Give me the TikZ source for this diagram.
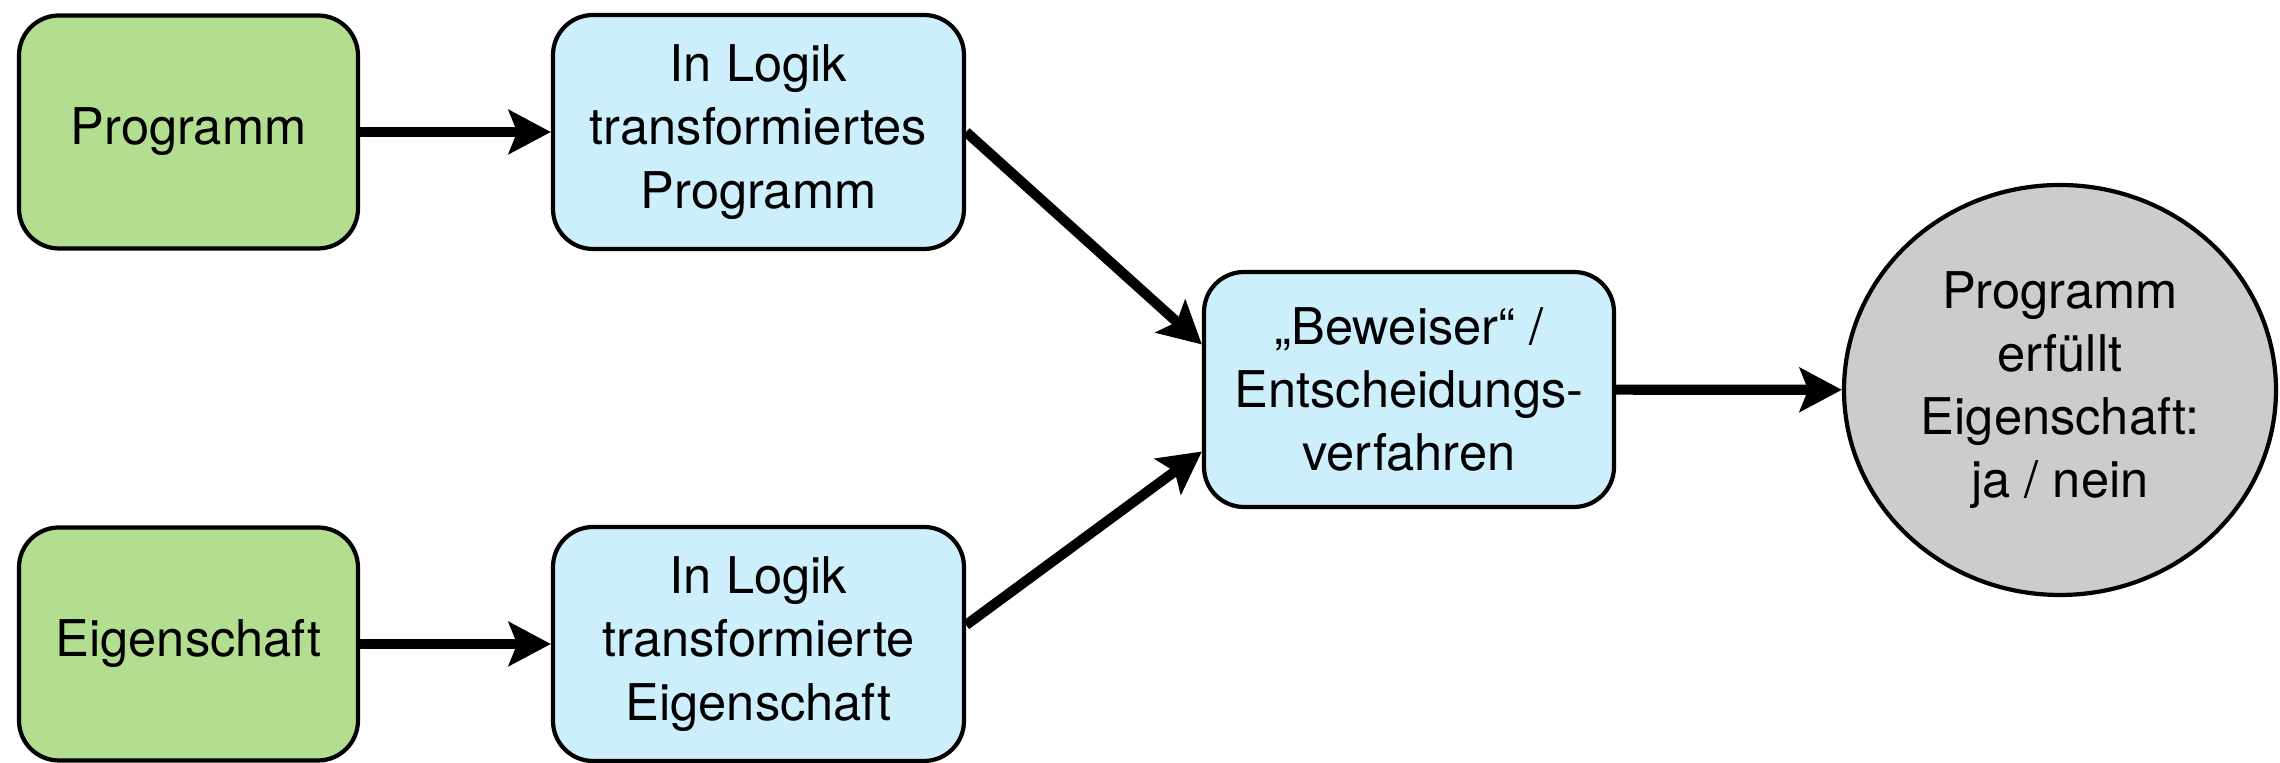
\documentclass[tikz,border=0pt]{standalone}
\usepackage{fontspec}
\setmainfont{TeX Gyre Heros}
\usetikzlibrary{arrows.meta,positioning,shapes.geometric}
\definecolor{inputgreen}{RGB}{180,222,143}
\definecolor{logicblue}{RGB}{205,239,252}
\definecolor{resultgray}{RGB}{204,204,204}

\begin{document}
\begin{tikzpicture}[
  font=\fontsize{14.4}{18}\selectfont,
  stepbox/.style={draw, line width=1.2pt, rounded corners=0.4cm, align=center, inner sep=0pt},
  inbox/.style={stepbox, fill=inputgreen, minimum width=3.39cm, minimum height=2.33cm},
  logicbox/.style={stepbox, fill=logicblue, minimum width=4.11cm, minimum height=2.34cm},
  flow/.style={line width=2.9pt, -{Stealth[length=12pt,width=12.5pt,inset=2.4pt]}}]
  \useasboundingbox (0,0) rectangle (22.8,7.63);
  \node[inbox] (prog) at (1.885,6.31) {Programm};
  \node[inbox] (prop) at (1.885,1.19) {Eigenschaft};
  \node[logicbox] (tprog) at (7.585,6.31) {In Logik\\transformiertes\\Programm};
  \node[logicbox] (tprop) at (7.585,1.19) {In Logik\\transformierte\\Eigenschaft};
  \node[logicbox, minimum width=4.10cm, minimum height=2.35cm] (prover) at (14.09,3.735)
    {„Beweiser“ /\\Entscheidungs-\\verfahren};
  \node[draw, line width=1.2pt, fill=resultgray, ellipse, minimum width=4.32cm,
    minimum height=4.10cm, inner sep=0pt, align=center] (answer) at (20.60,3.73)
    {Programm\\erfüllt\\Eigenschaft:\\ja / nein};
  \draw[flow] (prog) -- (tprog);
  \draw[flow] (prop) -- (tprop);
  \draw[flow] (tprog.east) -- ([yshift=4.5mm]prover.west);
  \draw[flow] ([yshift=1.9mm]tprop.east) -- ([yshift=-6.2mm]prover.west);
  \draw[flow] (prover) -- (answer);
\end{tikzpicture}
\end{document}
